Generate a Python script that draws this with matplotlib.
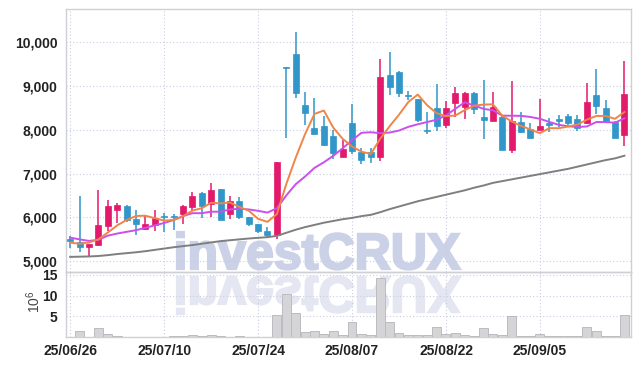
import matplotlib
matplotlib.use('Agg')
import matplotlib.pyplot as plt
import numpy as np
from matplotlib.textpath import TextPath
from matplotlib.patches import PathPatch
from matplotlib.font_manager import FontProperties
from matplotlib.transforms import Affine2D

plt.rcParams['font.family'] = ['Liberation Sans', 'DejaVu Sans']
plt.rcParams['mathtext.default'] = 'regular'

# daily candles (KRW)
opens = [5500, 5450, 5330, 5380, 5800, 6160, 6270, 5970, 5740, 5830,
         6030, 6030, 6080, 6250, 6570, 6310, 6640, 6090, 6380, 6000,
         5850, 5700, 5590, 9440, 9730, 8570, 8040, 8090, 7860, 7390,
         8150, 7490, 7490, 7390, 9250, 9330, 8790, 8700, 8000, 8490,
         8100, 8610, 8530, 8850, 8300, 8210, 8300, 7540, 8180, 8020,
         8000, 8160, 8250, 8320, 8250, 8150, 8800, 8490, 8190, 7880]
highs = [5580, 6480, 5400, 6620, 6400, 6330, 6280, 6170, 6060, 6170,
         6100, 6080, 6280, 6580, 6590, 6790, 6650, 6480, 6460, 6020,
         5860, 5790, 7270, 9440, 10230, 8860, 8720, 8320, 7990, 7770,
         8590, 7590, 7580, 9610, 9770, 9350, 8890, 8710, 8410, 9040,
         8660, 8970, 8860, 8860, 9150, 8870, 8340, 9120, 8400, 8150,
         8700, 8270, 8340, 8360, 8340, 9060, 9380, 8680, 8200, 9580]
lows = [5300, 5210, 5110, 5360, 5690, 5880, 5900, 5600, 5710, 5690,
        5670, 5720, 5860, 6170, 5980, 6020, 5940, 5970, 5960, 5800,
        5640, 5550, 5510, 7820, 8720, 8110, 7880, 7630, 7330, 7380,
        7460, 7210, 7250, 7290, 8800, 8760, 8680, 8170, 7900, 7980,
        8050, 8300, 8240, 8360, 7790, 8200, 7530, 7480, 7920, 7820,
        7990, 7960, 8070, 8100, 7980, 8130, 8360, 8200, 7820, 7640]
closes = [5470, 5330, 5390, 5820, 6270, 6290, 5940, 5850, 5850, 5990,
          6010, 6010, 6270, 6500, 6270, 6630, 5940, 6370, 6000, 5840,
          5690, 5600, 7260, 9410, 8840, 8390, 7910, 7650, 7470, 7560,
          7520, 7310, 7390, 9200, 8990, 8840, 8770, 8230, 7980, 8090,
          8490, 8850, 8850, 8480, 8220, 8520, 7540, 8210, 7960, 7820,
          8090, 8120, 8200, 8150, 8050, 8640, 8550, 8200, 7820, 8820]

# moving averages as drawn on the chart
ma5 = [5425, 5400, 5430, 5500, 5656, 5820, 5942, 6034, 6040, 5984,
       5928, 5942, 6026, 6156, 6212, 6336, 6322, 6342, 6242, 6156,
       5968, 5900, 6078, 6762, 7362, 7902, 8364, 8442, 8052, 7796,
       7622, 7502, 7450, 7796, 8082, 8346, 8638, 8806, 8562, 8382,
       8312, 8328, 8452, 8552, 8578, 8584, 8322, 8194, 8090, 8010,
       7924, 8040, 8038, 8076, 8122, 8232, 8318, 8318, 8252, 8408]
ma10 = [5540, 5500, 5465, 5490, 5585, 5633, 5672, 5710, 5764, 5820,
        5874, 5942, 6030, 6098, 6098, 6132, 6132, 6184, 6199, 6184,
        6152, 6111, 6210, 6502, 6759, 6935, 7132, 7260, 7407, 7579,
        7762, 7933, 7946, 7924, 7939, 7984, 8070, 8128, 8179, 8232,
        8329, 8483, 8629, 8557, 8480, 8448, 8325, 8323, 8321, 8294,
        8254, 8181, 8116, 8083, 8066, 8078, 8179, 8178, 8164, 8264]
ma_long = [5100, 5105, 5110, 5120, 5140, 5165, 5185, 5205, 5230, 5260,
           5290, 5320, 5345, 5370, 5400, 5430, 5460, 5480, 5500, 5520,
           5535, 5550, 5580, 5650, 5720, 5780, 5830, 5880, 5920, 5960,
           5990, 6030, 6060, 6120, 6190, 6250, 6310, 6370, 6420, 6470,
           6520, 6570, 6620, 6680, 6730, 6790, 6830, 6870, 6910, 6950,
           6990, 7030, 7070, 7110, 7160, 7210, 7260, 7310, 7350, 7410]

# volume in millions
volume = [0.1, 1.55, 0.1, 2.2, 0.8, 0.25, 0.05, 0.05, 0.05, 0.05,
          0.1, 0.25, 0.25, 0.4, 0.25, 0.4, 0.25, 0.1, 0.25, 0.05,
          0.05, 0.05, 5.2, 10.5, 5.8, 1.2, 1.5, 0.8, 1.5, 0.6,
          3.7, 0.8, 0.4, 14.3, 3.7, 1.05, 0.5, 0.5, 0.5, 2.4,
          0.8, 1.05, 0.5, 0.3, 2.2, 0.8, 0.5, 5.1, 0.15, 0.15,
          0.8, 0.3, 0.3, 0.3, 0.3, 2.4, 1.5, 0.25, 0.25, 5.4]

tick_idx = [0, 10, 20, 30, 40, 50]
tick_labels = ['25/06/26', '25/07/10', '25/07/24', '25/08/07', '25/08/22', '25/09/05']

UP = '#e3196b'
DOWN = '#3196c9'
GRID = '#c9cde0'
SPINE = '#cfd0d6'
LBL = dict(fontsize=10, fontweight='bold', color='#222222')

W, H = 639, 366
fig = plt.figure(figsize=(W / 100, H / 100), dpi=100)
ax = fig.add_axes([66 / W, 1 - 272 / H, 565 / W, 263 / H])
axv = fig.add_axes([66 / W, 1 - 337 / H, 565 / W, 65 / H], sharex=ax)
for a in (ax, axv):
    a.set_facecolor('none')
    for s in a.spines.values():
        s.set_color(SPINE)
        s.set_linewidth(1)
    a.grid(color=GRID, linestyle=(0, (1, 2)), linewidth=0.8)
    a.tick_params(length=0, pad=6)

x = np.arange(len(closes))
o = np.array(opens); c = np.array(closes)
cols = [UP if cc >= oo else DOWN for oo, cc in zip(o, c)]

# candles
ax.vlines(x, lows, highs, colors=cols, linewidth=1.1, zorder=2)
body = np.maximum(np.abs(c - o), 25)
ax.bar(x, body, bottom=np.minimum(o, c), width=0.64, color=cols,
       edgecolor=cols, linewidth=0.5, zorder=3)

ax.plot(x, ma_long, color='#7f7f7f', linewidth=1.4, zorder=4)
ax.plot(x, ma10, color='#c950ea', linewidth=1.4, zorder=4)
ax.plot(x, ma5, color='#ef8548', linewidth=1.4, zorder=5)

ax.set_xlim(-0.45, 59.7)
ax.set_ylim(4755, 10760)
yt = [5000, 6000, 7000, 8000, 9000, 10000]
ax.set_yticks(yt)
ax.set_yticklabels([f'{v:,}' for v in yt], **LBL)
ax.set_xticks(tick_idx)
ax.tick_params(axis='x', labelbottom=False)

# volume
axv.bar(x, volume, width=0.95, color='#d5d5d7', edgecolor='#bcbcc0',
        linewidth=0.7, zorder=3)
axv.set_ylim(0, 15.7)
axv.set_yticks([5, 10, 15])
axv.set_yticklabels(['5', '10', '15'], **LBL)
axv.set_xticks(tick_idx)
axv.set_xticklabels(tick_labels, **LBL)
axv.tick_params(axis='x', pad=5)
axv.set_ylabel('$10^{6}$', fontsize=10, color='#444444', labelpad=0)
axv.yaxis.set_label_coords(-0.041, 0.54)

# watermark with reflection
fp = FontProperties(family='Liberation Sans', weight='bold')
tp = TextPath((0, 0), 'investCRUX', size=1, prop=fp)
ext = tp.get_extents()
sx = 283 / ext.width
sy = 37 / ext.y1
to_fig = Affine2D().scale(1 / W, 1 / H) + fig.transFigure
t_main = Affine2D().translate(-ext.x0, 0).scale(sx, sy).translate(177, H - 269) + to_fig
t_refl = Affine2D().translate(-ext.x0, 0).scale(sx, -sy).translate(177, H - 277) + to_fig
fig.add_artist(PathPatch(tp, transform=t_main, facecolor='#cbd1e7', edgecolor='#cbd1e7',
                         linewidth=1.6, zorder=-1))
fig.add_artist(PathPatch(tp, transform=t_refl, facecolor='#e4e7f2', edgecolor='#e4e7f2',
                         linewidth=1.6, zorder=-1))

fig.savefig('out.png', dpi=100, facecolor='white')
